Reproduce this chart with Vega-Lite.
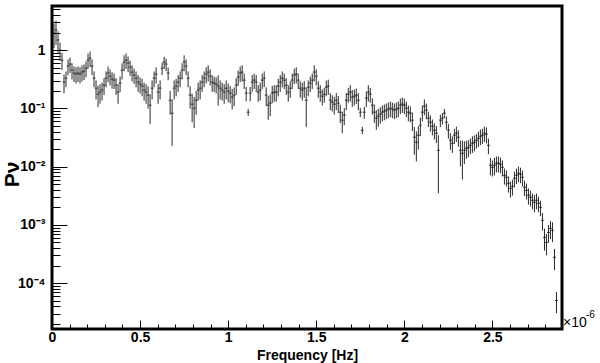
{
  "$schema": "https://vega.github.io/schema/vega-lite/v6.json",
  "width": 510,
  "height": 323,
  "autosize": {"type": "none"},
  "padding": {"left": 52, "top": 6, "right": 38, "bottom": 34},
  "background": "white",
  "config": {
    "font": "Liberation Sans",
    "view": {"stroke": "black", "strokeWidth": 3},
    "axis": {"grid": false, "domain": false, "tickColor": "black", "tickWidth": 1, "labelColor": "black", "titleColor": "black", "labelFont": "Liberation Sans", "titleFont": "Liberation Sans", "labelFontWeight": "bold", "titleFontWeight": "bold"}
  },
  "resolve": {"axis": {"x": "independent"}},
  "data": {"values": [
    {"f":0.0114,"p":1.96,"e":0.88},{"f":0.0227,"p":2.21,"e":0.99},{"f":0.0341,"p":1.49,"e":0.6},{"f":0.0455,"p":1.0,"e":0.35},
    {"f":0.0568,"p":0.673,"e":0.22},{"f":0.0682,"p":0.282,"e":0.1},{"f":0.0795,"p":0.33,"e":0.1},{"f":0.0909,"p":0.531,"e":0.16},
    {"f":0.1023,"p":0.575,"e":0.17},{"f":0.1136,"p":0.453,"e":0.14},{"f":0.125,"p":0.403,"e":0.12},{"f":0.1364,"p":0.387,"e":0.12},
    {"f":0.1477,"p":0.403,"e":0.12},{"f":0.1591,"p":0.387,"e":0.12},{"f":0.1705,"p":0.419,"e":0.13},{"f":0.1818,"p":0.436,"e":0.13},
    {"f":0.1932,"p":0.491,"e":0.15},{"f":0.2045,"p":0.673,"e":0.2},{"f":0.2159,"p":0.729,"e":0.22},{"f":0.2273,"p":0.531,"e":0.16},
    {"f":0.2386,"p":0.33,"e":0.1},{"f":0.25,"p":0.222,"e":0.08},{"f":0.2614,"p":0.175,"e":0.07},{"f":0.2727,"p":0.19,"e":0.07},
    {"f":0.2841,"p":0.206,"e":0.07},{"f":0.2955,"p":0.25,"e":0.08},{"f":0.3068,"p":0.33,"e":0.1},{"f":0.3182,"p":0.403,"e":0.12},
    {"f":0.3295,"p":0.357,"e":0.11},{"f":0.3409,"p":0.318,"e":0.1},{"f":0.3523,"p":0.305,"e":0.09},{"f":0.3636,"p":0.25,"e":0.08},
    {"f":0.375,"p":0.19,"e":0.07},{"f":0.3864,"p":0.271,"e":0.08},{"f":0.3977,"p":0.453,"e":0.14},{"f":0.4091,"p":0.622,"e":0.19},
    {"f":0.4205,"p":0.673,"e":0.2},{"f":0.4318,"p":0.598,"e":0.18},{"f":0.4432,"p":0.51,"e":0.15},{"f":0.4545,"p":0.419,"e":0.13},
    {"f":0.4659,"p":0.372,"e":0.11},{"f":0.4773,"p":0.33,"e":0.1},{"f":0.4886,"p":0.282,"e":0.09},{"f":0.5,"p":0.26,"e":0.08},
    {"f":0.5114,"p":0.241,"e":0.08},{"f":0.5227,"p":0.206,"e":0.07},{"f":0.5341,"p":0.19,"e":0.07},{"f":0.5455,"p":0.169,"e":0.07},
    {"f":0.5568,"p":0.1135,"e":0.06},{"f":0.5682,"p":0.222,"e":0.08},{"f":0.5795,"p":0.33,"e":0.1},{"f":0.5909,"p":0.387,"e":0.12},
    {"f":0.6023,"p":0.19,"e":0.07},{"f":0.6136,"p":0.222,"e":0.08},{"f":0.625,"p":0.491,"e":0.12},{"f":0.6364,"p":0.622,"e":0.15},
    {"f":0.6477,"p":0.575,"e":0.14},{"f":0.6591,"p":0.403,"e":0.1},{"f":0.6705,"p":0.138,"e":0.06},{"f":0.6818,"p":0.0827,"e":0.06},
    {"f":0.6932,"p":0.222,"e":0.08},{"f":0.7045,"p":0.241,"e":0.08},{"f":0.7159,"p":0.282,"e":0.09},{"f":0.7273,"p":0.33,"e":0.1},
    {"f":0.7386,"p":0.453,"e":0.14},{"f":0.75,"p":0.622,"e":0.19},{"f":0.7614,"p":0.531,"e":0.16},{"f":0.7727,"p":0.33,"e":0.1},
    {"f":0.7841,"p":0.169,"e":0.07},{"f":0.7955,"p":0.118,"e":0.06},{"f":0.8068,"p":0.101,"e":0.055},{"f":0.8182,"p":0.138,"e":0.06},
    {"f":0.8295,"p":0.206,"e":0.07},{"f":0.8409,"p":0.222,"e":0.08},{"f":0.8523,"p":0.282,"e":0.09},{"f":0.8636,"p":0.33,"e":0.1},
    {"f":0.875,"p":0.387,"e":0.12},{"f":0.8864,"p":0.419,"e":0.13},{"f":0.8977,"p":0.357,"e":0.11},{"f":0.9091,"p":0.282,"e":0.09},
    {"f":0.9205,"p":0.271,"e":0.08},{"f":0.9318,"p":0.26,"e":0.08},{"f":0.9432,"p":0.241,"e":0.13},{"f":0.9545,"p":0.222,"e":0.08},
    {"f":0.9659,"p":0.206,"e":0.07},{"f":0.9773,"p":0.19,"e":0.07},{"f":0.9886,"p":0.222,"e":0.08},{"f":1.0,"p":0.1975,"e":0.07},
    {"f":1.0114,"p":0.1825,"e":0.06},{"f":1.0227,"p":0.156,"e":0.06},{"f":1.0341,"p":0.169,"e":0.06},{"f":1.0455,"p":0.25,"e":0.08},
    {"f":1.0568,"p":0.344,"e":0.1},{"f":1.0682,"p":0.403,"e":0.12},{"f":1.0795,"p":0.419,"e":0.13},{"f":1.0909,"p":0.305,"e":0.09},
    {"f":1.1023,"p":0.1825,"e":0.05},{"f":1.1136,"p":0.086,"e":0.012},{"f":1.125,"p":0.1825,"e":0.05},{"f":1.1364,"p":0.282,"e":0.09},
    {"f":1.1477,"p":0.305,"e":0.09},{"f":1.1591,"p":0.282,"e":0.09},{"f":1.1705,"p":0.19,"e":0.06},{"f":1.1818,"p":0.206,"e":0.07},
    {"f":1.1932,"p":0.305,"e":0.09},{"f":1.2045,"p":0.33,"e":0.1},{"f":1.2159,"p":0.169,"e":0.06},{"f":1.2273,"p":0.1135,"e":0.05},
    {"f":1.2386,"p":0.123,"e":0.05},{"f":1.25,"p":0.1825,"e":0.06},{"f":1.2614,"p":0.19,"e":0.06},{"f":1.2727,"p":0.19,"e":0.06},
    {"f":1.2841,"p":0.241,"e":0.08},{"f":1.2955,"p":0.282,"e":0.09},{"f":1.3068,"p":0.33,"e":0.1},{"f":1.3182,"p":0.305,"e":0.09},
    {"f":1.3295,"p":0.25,"e":0.08},{"f":1.3409,"p":0.19,"e":0.06},{"f":1.3523,"p":0.222,"e":0.07},{"f":1.3636,"p":0.305,"e":0.09},
    {"f":1.375,"p":0.372,"e":0.11},{"f":1.3864,"p":0.387,"e":0.12},{"f":1.3977,"p":0.305,"e":0.09},{"f":1.4091,"p":0.222,"e":0.07},
    {"f":1.4205,"p":0.206,"e":0.07},{"f":1.4318,"p":0.222,"e":0.07},{"f":1.4432,"p":0.138,"e":0.09},{"f":1.4545,"p":0.231,"e":0.07},
    {"f":1.4659,"p":0.271,"e":0.08},{"f":1.4773,"p":0.305,"e":0.09},{"f":1.4886,"p":0.419,"e":0.13},{"f":1.5,"p":0.357,"e":0.11},
    {"f":1.5114,"p":0.222,"e":0.07},{"f":1.5227,"p":0.19,"e":0.06},{"f":1.5341,"p":0.162,"e":0.05},{"f":1.5455,"p":0.175,"e":0.05},
    {"f":1.5568,"p":0.231,"e":0.07},{"f":1.5682,"p":0.241,"e":0.07},{"f":1.5795,"p":0.138,"e":0.045},{"f":1.5909,"p":0.128,"e":0.04},
    {"f":1.6023,"p":0.118,"e":0.04},{"f":1.6136,"p":0.138,"e":0.045},{"f":1.625,"p":0.123,"e":0.04},{"f":1.6364,"p":0.086,"e":0.03},
    {"f":1.6477,"p":0.0627,"e":0.025},{"f":1.6591,"p":0.0764,"e":0.025},{"f":1.6705,"p":0.138,"e":0.045},{"f":1.6818,"p":0.175,"e":0.05},
    {"f":1.6932,"p":0.19,"e":0.06},{"f":1.7045,"p":0.156,"e":0.05},{"f":1.7159,"p":0.162,"e":0.05},{"f":1.7273,"p":0.169,"e":0.05},
    {"f":1.7386,"p":0.138,"e":0.045},{"f":1.75,"p":0.086,"e":0.015},{"f":1.7614,"p":0.0422,"e":0.006},{"f":1.7727,"p":0.086,"e":0.02},
    {"f":1.7841,"p":0.15,"e":0.045},{"f":1.7955,"p":0.19,"e":0.06},{"f":1.8068,"p":0.175,"e":0.05},{"f":1.8182,"p":0.1135,"e":0.035},
    {"f":1.8295,"p":0.086,"e":0.03},{"f":1.8409,"p":0.0679,"e":0.025},{"f":1.8523,"p":0.0734,"e":0.025},{"f":1.8636,"p":0.0795,"e":0.025},
    {"f":1.875,"p":0.086,"e":0.026},{"f":1.8864,"p":0.0895,"e":0.027},{"f":1.8977,"p":0.0931,"e":0.028},{"f":1.9091,"p":0.0969,"e":0.029},
    {"f":1.9205,"p":0.1008,"e":0.03},{"f":1.9318,"p":0.0969,"e":0.029},{"f":1.9432,"p":0.0931,"e":0.028},{"f":1.9545,"p":0.0969,"e":0.029},
    {"f":1.9659,"p":0.1008,"e":0.03},{"f":1.9773,"p":0.1135,"e":0.034},{"f":1.9886,"p":0.1181,"e":0.035},{"f":2.0,"p":0.1135,"e":0.034},
    {"f":2.0114,"p":0.1008,"e":0.03},{"f":2.0227,"p":0.086,"e":0.026},{"f":2.0341,"p":0.0827,"e":0.025},{"f":2.0455,"p":0.0627,"e":0.022},
    {"f":2.0568,"p":0.032,"e":0.016},{"f":2.0682,"p":0.0263,"e":0.014},{"f":2.0795,"p":0.0346,"e":0.015},{"f":2.0909,"p":0.0514,"e":0.018},
    {"f":2.1023,"p":0.086,"e":0.026},{"f":2.1136,"p":0.1091,"e":0.033},{"f":2.125,"p":0.0931,"e":0.028},{"f":2.1364,"p":0.0679,"e":0.02},
    {"f":2.1477,"p":0.0579,"e":0.018},{"f":2.1591,"p":0.0494,"e":0.015},{"f":2.1705,"p":0.0422,"e":0.013},{"f":2.1818,"p":0.0375,"e":0.012},
    {"f":2.1932,"p":0.0191,"e":0.0156},{"f":2.2045,"p":0.0627,"e":0.015},{"f":2.2159,"p":0.0679,"e":0.015},{"f":2.2273,"p":0.0827,"e":0.015},
    {"f":2.2386,"p":0.0579,"e":0.015},{"f":2.25,"p":0.0422,"e":0.012},{"f":2.2614,"p":0.0284,"e":0.009},{"f":2.2727,"p":0.0252,"e":0.008},
    {"f":2.2841,"p":0.0346,"e":0.01},{"f":2.2955,"p":0.0375,"e":0.011},{"f":2.3068,"p":0.032,"e":0.01},{"f":2.3182,"p":0.0191,"e":0.009},
    {"f":2.3295,"p":0.017,"e":0.011},{"f":2.3409,"p":0.0191,"e":0.008},{"f":2.3523,"p":0.0207,"e":0.007},{"f":2.3636,"p":0.0215,"e":0.007},
    {"f":2.375,"p":0.0233,"e":0.007},{"f":2.3864,"p":0.0252,"e":0.008},{"f":2.3977,"p":0.0263,"e":0.008},{"f":2.4091,"p":0.0284,"e":0.008},
    {"f":2.4205,"p":0.0308,"e":0.009},{"f":2.4318,"p":0.0333,"e":0.01},{"f":2.4432,"p":0.0346,"e":0.01},{"f":2.4545,"p":0.0375,"e":0.011},
    {"f":2.4659,"p":0.036,"e":0.011},{"f":2.4773,"p":0.0233,"e":0.007},{"f":2.4886,"p":0.01057,"e":0.0035},{"f":2.5,"p":0.00977,"e":0.003},
    {"f":2.5114,"p":0.01057,"e":0.0035},{"f":2.5227,"p":0.01144,"e":0.0035},{"f":2.5341,"p":0.01144,"e":0.0035},{"f":2.5455,"p":0.011,"e":0.0033},
    {"f":2.5568,"p":0.00977,"e":0.003},{"f":2.5682,"p":0.00712,"e":0.0022},{"f":2.5795,"p":0.00657,"e":0.002},{"f":2.5909,"p":0.00519,"e":0.0016},
    {"f":2.6023,"p":0.00425,"e":0.0013},{"f":2.6136,"p":0.0046,"e":0.0014},{"f":2.625,"p":0.00632,"e":0.0019},{"f":2.6364,"p":0.00712,"e":0.0021},
    {"f":2.6477,"p":0.0077,"e":0.0023},{"f":2.6591,"p":0.0074,"e":0.0022},{"f":2.6705,"p":0.00657,"e":0.002},{"f":2.6818,"p":0.00443,"e":0.0013},
    {"f":2.6932,"p":0.00393,"e":0.0012},{"f":2.7045,"p":0.00323,"e":0.001},{"f":2.7159,"p":0.00298,"e":0.0009},{"f":2.7273,"p":0.00265,"e":0.0008},
    {"f":2.7386,"p":0.00245,"e":0.0008},{"f":2.75,"p":0.00265,"e":0.0008},{"f":2.7614,"p":0.00235,"e":0.0007},{"f":2.7727,"p":0.00201,"e":0.0006},
    {"f":2.7841,"p":0.0012,"e":0.0004},{"f":2.7955,"p":0.000612,"e":0.00025},{"f":2.8068,"p":0.000502,"e":0.0002},{"f":2.8182,"p":0.000746,"e":0.00025},
    {"f":2.8295,"p":0.000874,"e":0.0003},{"f":2.8409,"p":0.000808,"e":0.0003},{"f":2.8523,"p":0.000278,"e":0.00011},{"f":2.8636,"p":0.0000506,"e":0.00002}
  ]},
  "layer": [
    {
      "mark": {"type": "errorbar", "ticks": false, "color": "#2a2a2a", "thickness": 1},
      "encoding": {
        "x": {"field": "f", "type": "quantitative",
          "scale": {"domain": [0, 2.895], "nice": false, "zero": false},
          "axis": {"orient": "bottom", "title": "Frequency [Hz]", "titleFontSize": 14, "titleX": 255, "titleY": 26, "titleAlign": "center", "titleBaseline": "middle",
            "values": [0, 0.5, 1, 1.5, 2, 2.5], "format": "~g",
            "labelFontSize": 14, "labelPadding": 10, "labelFlush": false, "labelOverlap": false,
            "tickSize": -9}},
        "y": {"field": "p", "type": "quantitative",
          "scale": {"type": "log", "domain": [0.0000164, 5.7], "nice": false},
          "axis": {"title": "Pν", "titleFontSize": 21, "titleX": -40, "titleY": 168, "titleAngle": -90, "titleAlign": "center", "titleBaseline": "middle",
            "values": [0.00002,0.00003,0.00004,0.00005,0.00006,0.00007,0.00008,0.00009,0.0001,0.0002,0.0003,0.0004,0.0005,0.0006,0.0007,0.0008,0.0009,0.001,0.002,0.003,0.004,0.005,0.006,0.007,0.008,0.009,0.01,0.02,0.03,0.04,0.05,0.06,0.07,0.08,0.09,0.1,0.2,0.3,0.4,0.5,0.6,0.7,0.8,0.9,1,2,3,4,5],
            "labelExpr": "datum.value == 1 ? '1' : datum.value == 0.1 ? '10⁻¹' : datum.value == 0.01 ? '10⁻²' : datum.value == 0.001 ? '10⁻³' : datum.value == 0.0001 ? '10⁻⁴' : ''",
            "labelFontSize": 14, "labelPadding": 22, "labelFlush": false, "labelOverlap": false,
            "tickSize": {"condition": {"test": "indexof([1,0.1,0.01,0.001,0.0001], datum.value) >= 0", "value": -15}, "value": -8}}},
        "yError": {"field": "e"}
      }
    },
    {
      "mark": {"type": "tick", "orient": "horizontal", "size": 3, "thickness": 1, "color": "black"},
      "encoding": {
        "x": {"field": "f", "type": "quantitative",
          "axis": {"orient": "bottom", "title": null, "labels": false,
            "values": [0.1,0.2,0.3,0.4,0.6,0.7,0.8,0.9,1.1,1.2,1.3,1.4,1.6,1.7,1.8,1.9,2.1,2.2,2.3,2.4,2.6,2.7,2.8],
            "tickSize": -5}},
        "y": {"field": "p", "type": "quantitative"}
      }
    },
    {
      "data": {"values": [{}]},
      "mark": {"type": "text", "align": "left", "baseline": "middle", "dx": 1, "dy": -6, "fontSize": 14, "font": "Liberation Sans", "color": "black"},
      "encoding": {
        "x": {"datum": 2.895, "type": "quantitative", "axis": null},
        "y": {"datum": 0.0000164, "type": "quantitative"},
        "text": {"value": "×10"}
      }
    },
    {
      "data": {"values": [{}]},
      "mark": {"type": "text", "align": "left", "baseline": "middle", "dx": 24, "dy": -14, "fontSize": 10, "font": "Liberation Sans", "color": "black"},
      "encoding": {
        "x": {"datum": 2.895, "type": "quantitative", "axis": null},
        "y": {"datum": 0.0000164, "type": "quantitative"},
        "text": {"value": "-6"}
      }
    }
  ]
}
